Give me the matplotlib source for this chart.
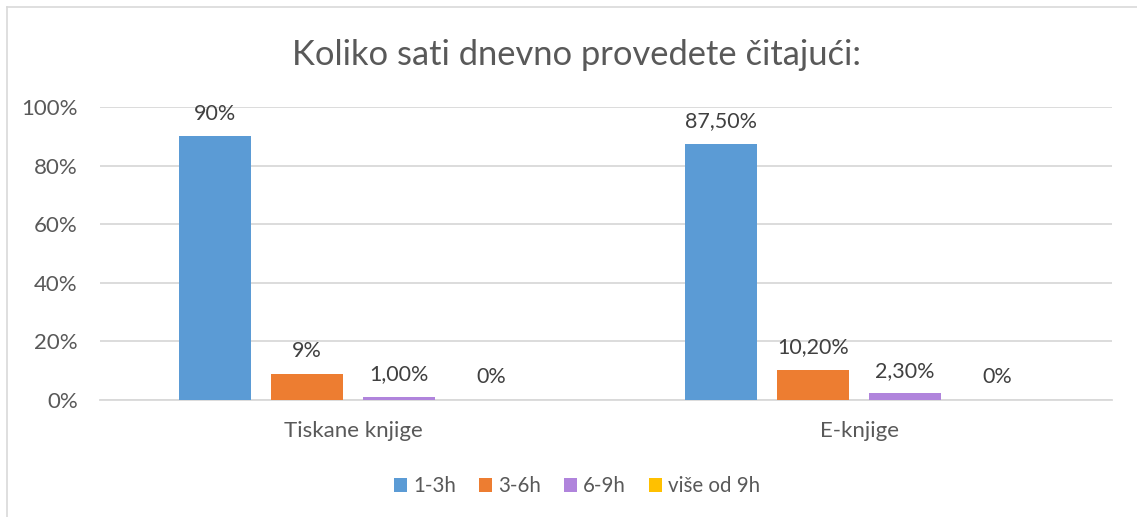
import numpy as np
import matplotlib.pyplot as plt
from matplotlib.lines import Line2D
from matplotlib.patches import Patch

plt.rcParams['font.family'] = ['Lato', 'DejaVu Sans']

TITLE = 'Koliko sati dnevno provedete čitajući:'
GROUPS = ['Tiskane knjige', 'E-knjige']
SERIES = ['1-3h', '3-6h', '6-9h', 'više od 9h']
COLORS = ['#5B9BD5', '#ED7D31', '#B084DC', '#FFC000']

# values in percent, one list per series (Tiskane, E-knjige)
v_1_3 = [90.0, 87.5]
v_3_6 = [9.0, 10.2]
v_6_9 = [1.0, 2.3]
v_9plus = [0.0, 0.0]

# data labels as written in the chart
lbl_1_3 = ['90%', '87,50%']
lbl_3_6 = ['9%', '10,20%']
lbl_6_9 = ['1,00%', '2,30%']
lbl_9plus = ['0%', '0%']

values = [v_1_3, v_3_6, v_6_9, v_9plus]
labels = [lbl_1_3, lbl_3_6, lbl_6_9, lbl_9plus]

TXT = '#595959'
GRID = '#D9D9D9'

fig = plt.figure(figsize=(11.37, 5.17), dpi=100)
ax = fig.add_axes([100 / 1137, 1 - 400 / 517, 1012 / 1137, 293 / 517])

x = np.arange(len(GROUPS))
w = 0.142
step = 0.182
for k, (vals, lbls, c) in enumerate(zip(values, labels, COLORS)):
    off = (k - 1.5) * step
    ax.bar(x + off, vals, w, color=c, label=SERIES[k], zorder=3)
    for xi, v, t in zip(x + off, vals, lbls):
        ax.text(xi, v + 4.3, t, ha='center', va='bottom', fontsize=15.5,
                color='#404040', zorder=4)

ax.set_xlim(-0.5, 1.5)
ax.set_ylim(0, 100)
ax.set_yticks(np.arange(0, 101, 20))
ax.set_yticklabels([f'{t}%' for t in range(0, 101, 20)])
ax.yaxis.grid(True, color=GRID, linewidth=1.3, zorder=0)
ax.set_xticks(x)
ax.set_xticklabels(GROUPS)
ax.tick_params(axis='both', length=0, labelsize=16, labelcolor=TXT)
ax.tick_params(axis='y', pad=16)
ax.tick_params(axis='x', pad=15)
for s in ['top', 'right', 'left']:
    ax.spines[s].set_visible(False)
ax.spines['bottom'].set_color(GRID)
ax.spines['bottom'].set_linewidth(1.3)

fig.text(576 / 1137, 1 - 55 / 517, TITLE, ha='center', va='center',
         fontsize=24.8, color=TXT)

handles = [Patch(facecolor=c, label=s) for c, s in zip(COLORS, SERIES)]
fig.legend(handles=handles, loc='center', bbox_to_anchor=(577 / 1137, 1 - 486 / 517),
           ncol=4, frameon=False, fontsize=14.8, handlelength=0.65,
           handleheight=0.65, handletextpad=0.3, columnspacing=1.1,
           labelcolor=TXT)

# chart border (only top and left edges are in view)
fig.add_artist(Line2D([7 / 1137, 1], [1 - 7 / 517] * 2, color=GRID, lw=1.2))
fig.add_artist(Line2D([7 / 1137] * 2, [0, 1 - 7 / 517], color=GRID, lw=1.2))

fig.savefig('out.png', dpi=100)
